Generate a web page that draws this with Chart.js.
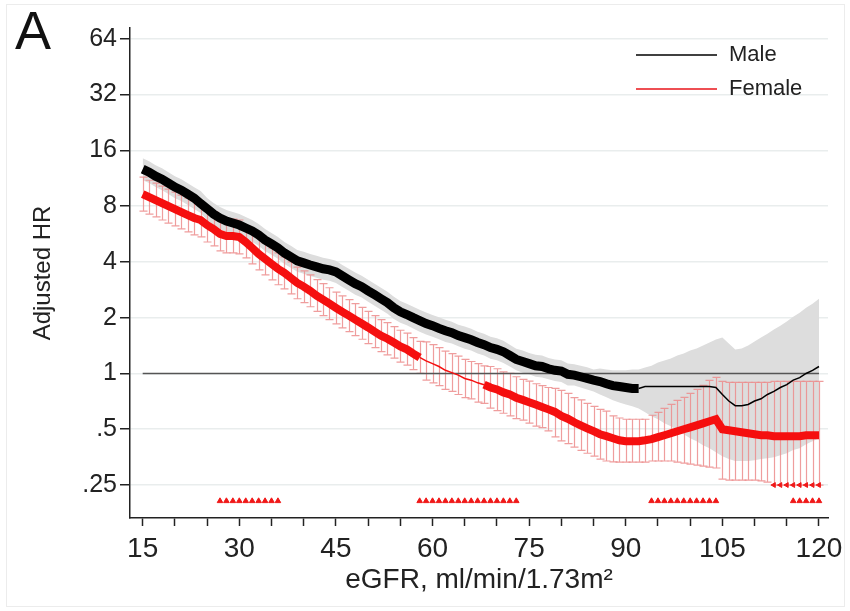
<!DOCTYPE html>
<html lang="en">
<head>
<meta charset="UTF-8">
<title>Adjusted HR by eGFR</title>
<script src="https://cdn.jsdelivr.net/npm/chart.js"></script>
<style>
  html, body { margin: 0; padding: 0; background: #fff; }
  #wrap { width: 850px; height: 611px; }
</style>
</head>
<body>
<div id="wrap"><canvas id="chart1" width="850" height="611"></canvas></div>
<script>
// eGFR grid (ml/min/1.73m2)
const egfr = [15,16,17,18,19,20,21,22,23,24,25,26,27,28,29,30,31,32,33,34,35,36,37,38,39,40,41,42,43,44,
  45,46,47,48,49,50,51,52,53,54,55,56,57,58,59,60,61,62,63,64,65,66,67,68,69,70,71,72,73,74,
  75,76,77,78,79,80,81,82,83,84,85,86,87,88,89,90,91,92,93,94,95,96,97,98,99,100,101,102,103,104,
  105,106,107,108,109,110,111,112,113,114,115,116,117,118,119,120];

// Male adjusted HR + CI (grey band)
const maleHR = [12.65,12.19,11.60,11.17,10.64,10.12,9.75,9.28,8.83,8.25,
  7.75,7.25,6.90,6.64,6.48,6.32,6.09,5.87,5.59,5.25,
  5.00,4.76,4.47,4.26,4.05,3.95,3.85,3.76,3.67,3.62,
  3.53,3.36,3.20,3.05,2.94,2.79,2.66,2.53,2.41,2.26,
  2.15,2.08,2.00,1.93,1.86,1.81,1.75,1.70,1.66,1.60,
  1.56,1.52,1.47,1.43,1.38,1.35,1.31,1.25,1.19,1.16,
  1.13,1.10,1.09,1.06,1.04,1.03,0.99,0.98,0.96,0.94,
  0.92,0.905,0.88,0.86,0.85,0.84,0.83,0.83,0.85,0.85,
  0.85,0.85,0.85,0.85,0.85,0.85,0.85,0.85,0.85,0.84,
  0.77,0.71,0.67,0.67,0.68,0.71,0.73,0.77,0.80,0.84,
  0.87,0.92,0.95,1.00,1.04,1.09];
const maleHi = [14.50,13.97,13.29,12.80,12.19,11.60,11.17,10.63,10.12,9.64,
  8.84,8.31,7.91,7.61,7.43,7.24,6.98,6.73,6.41,6.02,
  5.73,5.45,5.12,4.88,4.64,4.53,4.41,4.31,4.21,4.15,
  4.05,3.85,3.67,3.50,3.37,3.20,3.05,2.90,2.76,2.59,
  2.46,2.38,2.29,2.21,2.13,2.07,2.01,1.95,1.90,1.83,
  1.79,1.74,1.68,1.64,1.58,1.55,1.50,1.43,1.36,1.33,
  1.29,1.26,1.25,1.21,1.19,1.18,1.13,1.12,1.10,1.08,
  1.05,1.064,1.05,1.04,1.04,1.04,1.05,1.05,1.077,1.10,
  1.146,1.175,1.204,1.25,1.281,1.33,1.363,1.414,1.467,1.523,
  1.561,1.45,1.346,1.363,1.414,1.486,1.561,1.64,1.724,1.811,
  1.904,2.025,2.128,2.263,2.378,2.53];
const maleLo = [11.04,10.64,10.13,9.75,9.29,8.83,8.51,8.10,7.71,7.34,
  6.73,6.33,6.02,5.80,5.66,5.52,5.32,5.12,4.88,4.58,
  4.37,4.16,3.90,3.72,3.54,3.45,3.36,3.28,3.20,3.16,
  3.08,2.93,2.79,2.66,2.57,2.44,2.32,2.21,2.10,1.97,
  1.88,1.82,1.75,1.68,1.62,1.58,1.53,1.48,1.45,1.40,
  1.36,1.33,1.28,1.25,1.20,1.18,1.14,1.09,1.04,1.01,
  0.99,0.96,0.95,0.93,0.91,0.90,0.86,0.86,0.84,0.82,
  0.80,0.771,0.743,0.716,0.698,0.681,0.665,0.648,0.617,0.587,
  0.566,0.538,0.519,0.494,0.47,0.447,0.431,0.41,0.395,0.376,
  0.358,0.345,0.337,0.337,0.337,0.34,0.345,0.349,0.353,0.362,
  0.371,0.386,0.395,0.415,0.431,0.447];

// Female adjusted HR + CI (error bars)
const femaleHR = [9.28,8.94,8.62,8.30,8.00,7.71,7.43,7.16,6.90,6.73,
  6.32,6.02,5.66,5.52,5.52,5.45,5.12,4.76,4.42,4.15,
  3.90,3.67,3.49,3.28,3.08,2.94,2.79,2.63,2.50,2.38,
  2.26,2.15,2.05,1.95,1.86,1.77,1.68,1.60,1.54,1.47,
  1.40,1.35,1.28,1.22,1.17,1.13,1.09,1.04,1.01,0.98,
  0.94,0.92,0.89,0.87,0.84,0.82,0.79,0.77,0.74,0.72,
  0.70,0.68,0.66,0.64,0.62,0.59,0.57,0.545,0.525,0.506,
  0.488,0.47,0.459,0.447,0.436,0.431,0.431,0.431,0.436,0.442,
  0.453,0.464,0.476,0.488,0.50,0.512,0.525,0.538,0.552,0.566,
  0.50,0.494,0.488,0.482,0.476,0.47,0.464,0.464,0.459,0.459,
  0.459,0.459,0.459,0.464,0.464,0.464];
const femaleHi = [11.45,11.03,10.64,10.24,9.87,9.51,9.17,8.84,8.51,8.31,
  7.80,7.43,6.98,6.81,6.81,6.73,6.24,5.80,5.39,5.06,
  4.75,4.47,4.25,4.00,3.75,3.58,3.40,3.21,3.05,2.90,
  2.75,2.62,2.50,2.38,2.27,2.16,2.05,1.95,1.88,1.79,
  1.71,1.65,1.56,1.49,1.48,1.43,1.38,1.32,1.28,1.24,
  1.19,1.16,1.13,1.10,1.09,1.06,1.02,1.00,0.96,0.93,
  0.91,0.88,0.86,0.84,0.83,0.81,0.78,0.74,0.72,0.69,
  0.665,0.64,0.626,0.59,0.575,0.566,0.566,0.566,0.566,0.595,
  0.617,0.648,0.681,0.716,0.743,0.781,0.82,0.862,0.917,0.952,
  0.906,0.895,0.895,0.895,0.895,0.895,0.895,0.895,0.906,0.906,
  0.906,0.906,0.906,0.906,0.906,0.906];
const femaleLo = [7.52,7.24,6.99,6.73,6.48,6.25,6.02,5.80,5.59,5.45,
  5.12,4.88,4.59,4.47,4.47,4.42,4.20,3.90,3.62,3.40,
  3.20,3.01,2.86,2.69,2.53,2.41,2.29,2.16,2.05,1.95,
  1.85,1.76,1.68,1.60,1.53,1.45,1.38,1.31,1.26,1.21,
  1.15,1.11,1.05,1.00,0.92,0.89,0.86,0.82,0.80,0.77,
  0.74,0.73,0.70,0.69,0.65,0.63,0.61,0.59,0.57,0.56,
  0.54,0.52,0.51,0.49,0.455,0.433,0.418,0.40,0.385,0.371,
  0.358,0.345,0.337,0.333,0.332,0.332,0.332,0.332,0.332,0.337,
  0.337,0.337,0.337,0.332,0.328,0.324,0.32,0.316,0.312,0.309,
  0.269,0.266,0.266,0.266,0.266,0.266,0.263,0.259,0.25,0.25,
  0.25,0.25,0.25,0.25,0.25,0.25];

// where the plotted curves switch between bold and thin
const maleBoldUntil = 92;
const femaleThinFrom = 58;
const femaleThinTo = 68;

// lower CI clipped at .25 (arrow markers)
const clippedX = [113,114,115,116,117,118,119,120];
const clippedLevel = 0.25;

// red rug of marks along the bottom
const rugX = [27,28,29,30,31,32,33,34,35,36,
  58,59,60,61,62,63,64,65,66,67,68,69,70,71,72,73,
  94,95,96,97,98,99,100,101,102,103,104,
  116,117,118,119,120];
const rugLevel = 0.205;

const refLineX = [15, 120];

// axes
const xTicks = [15,20,25,30,35,40,45,50,55,60,65,70,75,80,85,90,95,100,105,110,115,120];
const xLabelled = [15,30,45,60,75,90,105,120];
const yTicks = [0.25,0.5,1,2,4,8,16,32,64];
const yLabels = ['.25','.5','1','2','4','8','16','32','64'];

const pts = (xs, ys) => xs.map((v, i) => ({ x: v, y: ys[i] }));

// draws the female CI bars right after the grey band
const errorBars = {
    id: 'errorBars',
    afterDatasetDraw(chart, args) {
        if (args.index !== 0) return;
        const { ctx, chartArea, scales } = chart;
        ctx.save();
        ctx.beginPath();
        ctx.rect(chartArea.left, chartArea.top, chartArea.width, chartArea.height);
        ctx.clip();
        ctx.strokeStyle = 'rgba(236,140,140,0.85)';
        ctx.lineWidth = 1.2;
        egfr.forEach((e, i) => {
            const px = Math.round(scales.x.getPixelForValue(e)) + 0.5;
            const top = scales.y.getPixelForValue(femaleHi[i]);
            const bot = scales.y.getPixelForValue(femaleLo[i]);
            ctx.beginPath();
            ctx.moveTo(px, top); ctx.lineTo(px, bot);
            ctx.moveTo(px - 4, top); ctx.lineTo(px + 4, top);
            ctx.moveTo(px - 4, bot); ctx.lineTo(px + 4, bot);
            ctx.stroke();
        });
        ctx.restore();
    }
};

// panel letter, legend and faint frame
const decor = {
    id: 'decor',
    beforeDraw(chart) {
        const ctx = chart.ctx;
        ctx.save();
        ctx.strokeStyle = '#ececec';
        ctx.lineWidth = 1;
        ctx.strokeRect(6.5, 4.5, 838, 602);
        ctx.restore();
    },
    afterDraw(chart) {
        const ctx = chart.ctx;
        ctx.save();
        ctx.fillStyle = '#111';
        ctx.font = '54px "Liberation Sans", Arial, sans-serif';
        ctx.textBaseline = 'alphabetic';
        ctx.fillText('A', 15, 49);

        const items = [['Male', '#000'], ['Female', '#e8141a']];
        ctx.font = '22px "Liberation Sans", Arial, sans-serif';
        ctx.textBaseline = 'middle';
        items.forEach(([label, color], i) => {
            const y = 55 + i * 34;
            ctx.strokeStyle = color;
            ctx.lineWidth = 1.5;
            ctx.beginPath();
            ctx.moveTo(636, y); ctx.lineTo(717, y);
            ctx.stroke();
            ctx.fillStyle = '#222';
            ctx.fillText(label, 729, y);
        });
        ctx.restore();
    }
};

const ctx = document.getElementById('chart1').getContext('2d');
new Chart(ctx, {
    type: 'line',
    data: {
        datasets: [
            { label: 'Male upper', data: pts(egfr, maleHi), borderWidth: 0, pointRadius: 0,
              backgroundColor: '#dddddd', fill: '+1', order: 9 },
            { label: 'Male lower', data: pts(egfr, maleLo), borderWidth: 0, pointRadius: 0,
              fill: false, order: 10 },
            { label: 'ref', data: pts(refLineX, [1, 1]), borderColor: '#555', borderWidth: 1.5,
              pointRadius: 0, fill: false, order: 8 },
            { label: 'Male', data: pts(egfr, maleHR), borderColor: '#000', borderWidth: 9,
              pointRadius: 0, fill: false, order: 3,
              segment: { borderWidth: c => c.p0.parsed.x >= maleBoldUntil ? 1.5 : 9 } },
            { label: 'Female', data: pts(egfr, femaleHR), borderColor: '#f50f0f', borderWidth: 8,
              pointRadius: 0, fill: false, order: 2,
              segment: { borderWidth: c => (c.p0.parsed.x >= femaleThinFrom && c.p1.parsed.x <= femaleThinTo) ? 1.5 : 8 } },
            { type: 'scatter', label: 'rug', data: rugX.map(v => ({ x: v, y: rugLevel })),
              pointStyle: 'triangle', pointRadius: 3.2, backgroundColor: '#f01818', borderColor: '#f01818',
              borderWidth: 1, showLine: false, order: 1 },
            { type: 'scatter', label: 'clipped', data: clippedX.map(v => ({ x: v, y: clippedLevel })),
              pointStyle: 'triangle', pointRotation: -90, pointRadius: 2.8, backgroundColor: '#f01818',
              borderColor: '#f01818', borderWidth: 1, showLine: false, order: 1 }
        ]
    },
    options: {
        responsive: false,
        animation: false,
        layout: { padding: { top: 28, right: 22, left: 0, bottom: 0 } },
        plugins: { legend: { display: false }, tooltip: { enabled: false } },
        scales: {
            x: {
                type: 'linear',
                min: 13.03,
                max: 121.4,
                afterFit: s => { s.height = 93; },
                afterBuildTicks: s => { s.ticks = xTicks.map(v => ({ value: v })); },
                ticks: {
                    autoSkip: false,
                    maxRotation: 0,
                    padding: 6,
                    color: '#222',
                    font: { family: '"Liberation Sans Narrow", "Liberation Sans", Arial', size: 28 },
                    callback: v => xLabelled.includes(v) ? String(v) : ''
                },
                grid: { drawOnChartArea: false, tickLength: 8, tickColor: '#222', tickWidth: 1.5 },
                border: { color: '#222', width: 1.5 },
                title: {
                    display: true,
                    text: 'eGFR, ml/min/1.73m²',
                    color: '#222',
                    font: { family: '"Liberation Sans Narrow", "Liberation Sans", Arial', size: 28 },
                    padding: { top: 0, bottom: 14 }
                }
            },
            y: {
                type: 'logarithmic',
                min: 0.166,
                max: 73.1,
                afterFit: s => { s.width = 130; },
                afterBuildTicks: s => { s.ticks = yTicks.map(v => ({ value: v })); },
                ticks: {
                    autoSkip: false,
                    padding: 3,
                    color: '#222',
                    font: { family: '"Liberation Sans", Arial', size: 25 },
                    callback: v => yLabels[yTicks.indexOf(v)] ?? ''
                },
                grid: { color: '#e9eded', lineWidth: 1.5, tickLength: 10, tickColor: '#222', tickWidth: 1.5 },
                border: { color: '#222', width: 1.5 },
                title: {
                    display: true,
                    text: 'Adjusted HR',
                    color: '#222',
                    font: { family: '"Liberation Sans", Arial', size: 24 },
                    padding: { top: 29, bottom: 0 }
                }
            }
        }
    },
    plugins: [errorBars, decor]
});
</script>
</body>
</html>
